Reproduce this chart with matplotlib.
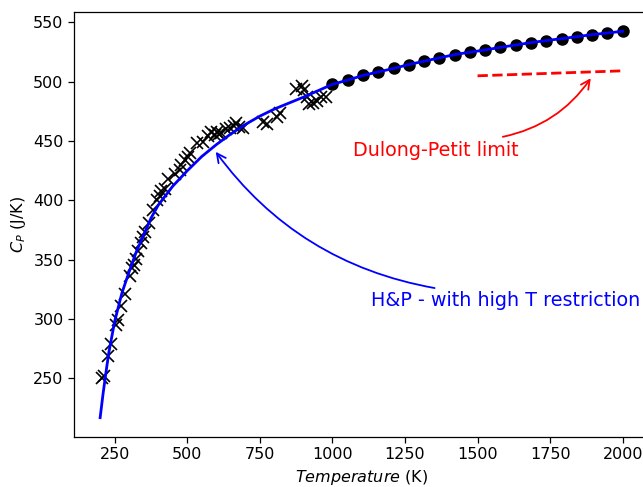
import numpy as np
import matplotlib
matplotlib.use("Agg")
import matplotlib.pyplot as plt

# Measured heat capacity (low-T calorimetry, crosses)
meas_T = [208, 212, 227, 239, 256, 262, 273, 285, 302, 311, 317, 325, 331, 340,
          346, 354, 368, 382, 395, 405, 411, 422, 435, 457, 474, 480, 491, 502,
          509, 532, 555, 572, 583, 595, 602, 610, 618, 635, 646, 660, 669, 680,
          692, 760, 775, 810, 819, 876, 895, 903, 911, 920, 934, 948, 962, 979]
meas_cp = [250, 252, 269, 279, 295, 299, 311, 321, 336, 343, 346, 351, 357, 364,
           369, 373, 381, 392, 400, 404, 408, 410, 418, 422, 426, 430, 434, 437,
           440, 448, 449, 454, 458, 455, 458, 456, 457, 460, 461, 463, 465, 462,
           461, 466, 464, 470, 474, 494, 496, 493, 487, 481, 482, 484, 487, 487]

# High-temperature values (filled circles)
high_T = np.linspace(1000, 2000, 20)
high_cp = [497.8, 501.4, 505.3, 508.3, 511.2, 514.5, 517.3, 520.1, 522.9, 524.9,
           526.8, 529.0, 531.0, 533.0, 534.7, 536.3, 538.0, 539.7, 541.1, 542.5]

# H&P fit with the high-T restriction
fit_T = [200, 210, 220, 230, 250, 275, 300, 325, 350, 375, 400, 450, 500, 550,
         600, 650, 700, 750, 800, 900] + list(high_T)
fit_cp = [217, 237, 255, 272, 298, 322, 340, 357, 371, 385, 396, 412, 425, 437,
          447, 456, 464, 471, 477, 487] + list(high_cp)

# Dulong-Petit limit
dp_T = [1500, 2000]
dp_cp = [505.0, 509.2]

fig = plt.figure(figsize=(6.43, 4.87), dpi=100)
ax = fig.add_axes([0.1151, 0.1027, 0.894, 0.8727])

ax.plot(meas_T, meas_cp, linestyle="none", marker="x", color="black",
        markersize=8.5, markeredgewidth=1.2, zorder=2)
ax.plot(high_T, high_cp, linestyle="none", marker="o", color="black",
        markersize=8, zorder=2)
ax.plot(fit_T, fit_cp, color="blue", linewidth=2.0, zorder=3)
ax.plot(dp_T, dp_cp, color="red", linestyle="--", linewidth=2.0, zorder=3)

ax.annotate("", xy=(1890, 503), xytext=(1587, 453.6),
            arrowprops=dict(arrowstyle="->", color="red", lw=1.3,
                            connectionstyle="arc3,rad=0.2",
                            mutation_scale=16, shrinkA=0, shrinkB=0))
ax.text(1070, 442, "Dulong-Petit limit", color="red", fontsize=13.8,
        ha="left", va="center")

ax.annotate("", xy=(598, 441), xytext=(1352, 326.2),
            arrowprops=dict(arrowstyle="->", color="blue", lw=1.3,
                            connectionstyle="arc3,rad=-0.2",
                            mutation_scale=16, shrinkA=0, shrinkB=0))
ax.text(1133, 316, "H&P - with high T restriction", color="blue",
        fontsize=13.8, ha="left", va="center", clip_on=False)

ax.set_xlabel(r"$\it{Temperature}$ (K)", fontsize=11.5)
ax.set_ylabel(r"$C_P$ (J/K)", fontsize=11.5)
ax.set_xticks([250, 500, 750, 1000, 1250, 1500, 1750, 2000])
ax.set_yticks([250, 300, 350, 400, 450, 500, 550])
ax.tick_params(labelsize=11.5, length=4, width=0.9)
for s in ax.spines.values():
    s.set_linewidth(0.9)

fig.savefig("out.png", dpi=100)
